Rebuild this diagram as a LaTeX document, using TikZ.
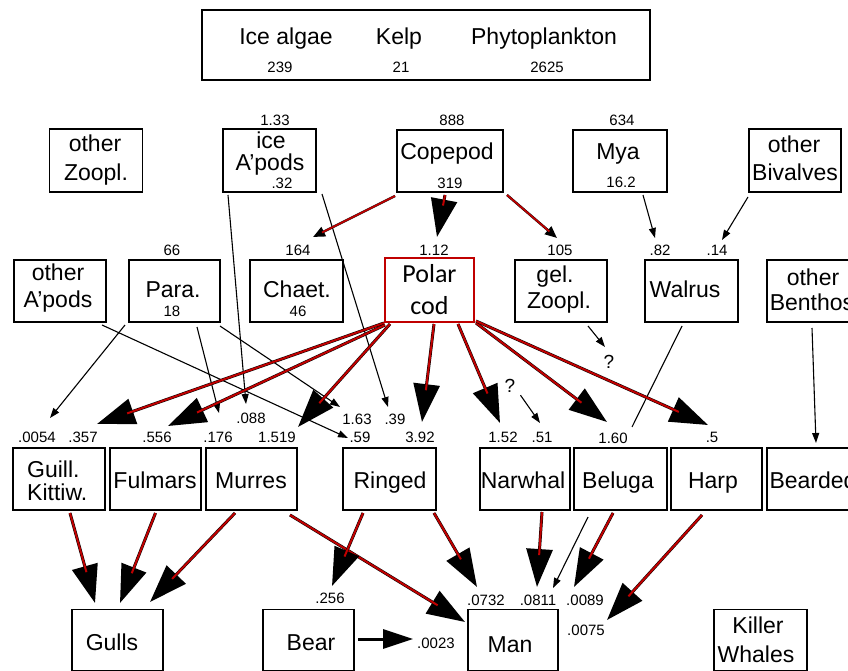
\documentclass[tikz,border=0pt]{standalone}
\usepackage{fontspec}
\setmainfont{Liberation Sans}
\newfontfamily\pcfont{Carlito}
\usetikzlibrary{arrows.meta,calc}
\definecolor{pcred}{RGB}{192,0,0}
\begin{document}
\begin{tikzpicture}[x=1pt,y=-1pt,
 box/.style={draw,line width=1.5pt,inner sep=0pt,outer sep=0pt},
 nm/.style={font=\fontsize{23}{27}\selectfont,anchor=base,inner sep=0pt},
 num/.style={font=\fontsize{15}{18}\selectfont,anchor=base,inner sep=0pt},
 qm/.style={font=\fontsize{19}{22}\selectfont,anchor=base,inner sep=0pt},
 pcn/.style={font=\pcfont\fontsize{26}{30}\selectfont,anchor=base,inner sep=0pt},
 bigred/.style={line width=3pt,-{Triangle[length=38pt,width=26pt]},postaction={draw=pcred,line width=2pt,-,shorten >=32pt}},
 smallred/.style={line width=2.4pt,-{Triangle[length=12pt,width=10pt]},postaction={draw=pcred,line width=1.7pt,-,shorten >=10pt}},
 thinarr/.style={line width=1.1pt,-{Triangle[length=10pt,width=7pt]}},
 thinline/.style={line width=1.1pt},
 bigblack/.style={line width=3pt,-{Triangle[length=30pt,width=19pt]}},
]
\useasboundingbox (0,0) rectangle (848,671);
\fill[white] (0,0) rectangle (848,671);

% ---------- boxes ----------
\node[box,minimum width=448pt,minimum height=70pt] (prod) at (426,45) {};
\node[box,minimum width=93pt,minimum height=63pt] (oz) at (96,160.5) {};
\node[box,minimum width=93pt,minimum height=63pt] (ia) at (269.5,160.5) {};
\node[box,minimum width=106pt,minimum height=62pt] (cop) at (450,161) {};
\node[box,minimum width=94pt,minimum height=62pt] (mya) at (620,161) {};
\node[box,minimum width=92pt,minimum height=63pt] (ob) at (795,160.5) {};
\node[box,minimum width=92pt,minimum height=62pt] (oa) at (60,291) {};
\node[box,minimum width=91pt,minimum height=62pt] (para) at (174.5,291) {};
\node[box,minimum width=93pt,minimum height=62pt] (cha) at (296.5,291) {};
\node[box,draw=pcred,line width=2.5pt,minimum width=89pt,minimum height=64pt] (pc) at (429.5,290) {};
\node[box,minimum width=92pt,minimum height=62pt] (gz) at (561,291) {};
\node[box,minimum width=93pt,minimum height=62pt] (wal) at (691.5,291) {};
\node[box,minimum width=92pt,minimum height=62pt] (obe) at (813,291) {};
\node[box,minimum width=92pt,minimum height=62pt] (gk) at (59,479) {};
\node[box,minimum width=91pt,minimum height=62pt] (ful) at (155.5,479) {};
\node[box,minimum width=91pt,minimum height=62pt] (mur) at (251.5,479) {};
\node[box,minimum width=93pt,minimum height=62pt] (rin) at (389.5,479) {};
\node[box,minimum width=90pt,minimum height=62pt] (nar) at (525,479) {};
\node[box,minimum width=93pt,minimum height=62pt] (bel) at (620.5,479) {};
\node[box,minimum width=91pt,minimum height=62pt] (har) at (716.5,479) {};
\node[box,minimum width=92pt,minimum height=62pt] (bea) at (813,479) {};
\node[box,minimum width=91pt,minimum height=61pt] (gul) at (117.5,640) {};
\node[box,minimum width=91pt,minimum height=61pt] (bear) at (308.5,640) {};
\node[box,minimum width=90pt,minimum height=61pt] (man) at (513,640) {};
\node[box,minimum width=93pt,minimum height=61pt] (kw) at (760.5,640) {};

% ---------- box texts ----------
\node[nm] (t-ia1) at (286,45) {Ice algae};
\node[nm] (t-kelp) at (399,45) {Kelp};
\node[nm] (t-phy) at (544,45) {Phytoplankton};
\node[num] (n239) at (280,73) {239};
\node[num] (n21) at (401,73) {21};
\node[num] (n2625) at (547,73) {2625};

\node[nm] (t-oz1) at (95,152) {other};
\node[nm] (t-oz2) at (96,181) {Zoopl.};
\node[nm] (t-ia-a) at (271,149) {ice};
\node[nm] (t-ia-b) at (270,171) {A'pods};
\node[num] (n133) at (275,126) {1.33};
\node[num] (n32) at (282,189) {.32};
\node[nm] (t-cop) at (447,160) {Copepod};
\node[num] (n888) at (452,126) {888};
\node[num] (n319) at (450,189) {319};
\node[nm] (t-mya) at (618,160) {Mya};
\node[num] (n634) at (622,126) {634};
\node[num] (n162) at (621,187) {16.2};
\node[nm] (t-ob1) at (794,153) {other};
\node[nm] (t-ob2) at (795,181) {Bivalves};

\node[nm] (t-oa1) at (58,280) {other};
\node[nm] (t-oa2) at (58,307) {A'pods};
\node[nm] (t-para) at (173,297) {Para.};
\node[num] (n66) at (172,255) {66};
\node[num] (n18) at (172,316) {18};
\node[nm] (t-cha) at (297,297) {Chaet.};
\node[num] (n164) at (298,255) {164};
\node[num] (n46) at (298,316) {46};
\node[pcn] (t-pc1) at (429.5,282) {Polar};
\node[pcn] (t-pc2) at (429.5,314) {cod};
\node[num] (n112) at (434,255) {1.12};
\node[nm] (t-gz1) at (555,282) {gel.};
\node[nm] (t-gz2) at (559,308) {Zoopl.};
\node[num] (n105) at (560,255) {105};
\node[nm] (t-wal) at (685,297) {Walrus};
\node[num] (n82) at (660,255) {.82};
\node[num] (n14) at (717,255) {.14};
\node[nm] (t-obe1) at (813,285) {other};
\node[nm] (t-obe2) at (812,310) {Benthos};

\node[nm,anchor=base west] (t-gk1) at (27,477) {Guill.};
\node[nm,anchor=base west] (t-gk2) at (27,500) {Kittiw.};
\node[nm] (t-ful) at (155,488) {Fulmars};
\node[nm] (t-mur) at (251,488) {Murres};
\node[nm] (t-rin) at (390,488) {Ringed};
\node[nm] (t-nar) at (523,488) {Narwhal};
\node[nm] (t-bel) at (618,488) {Beluga};
\node[nm] (t-har) at (713,488) {Harp};
\node[nm] (t-bea) at (813,488) {Bearded};

\node[num] (n0054) at (37,442) {.0054};
\node[num] (n357) at (83,442) {.357};
\node[num] (n556) at (157,442) {.556};
\node[num] (n176) at (218,442) {.176};
\node[num] (n1519) at (277,442) {1.519};
\node[num] (n088) at (251,423) {.088};
\node[num] (n163) at (357,424) {1.63};
\node[num] (n39) at (395,424) {.39};
\node[num] (n59) at (360,442) {.59};
\node[num] (n392) at (420,442) {3.92};
\node[num] (n152) at (503,442) {1.52};
\node[num] (n51) at (542,442) {.51};
\node[num] (n160) at (613,443) {1.60};
\node[num] (n5) at (712,442) {.5};

\node[nm] (t-gul) at (112,650) {Gulls};
\node[nm] (t-bear) at (311,650) {Bear};
\node[nm] (t-man) at (510,652) {Man};
\node[nm] (t-kw1) at (758,633) {Killer};
\node[nm] (t-kw2) at (756,662) {Whales};
\node[num] (n256) at (330,603) {.256};
\node[num] (n0732) at (486,605) {.0732};
\node[num] (n0811) at (538,605) {.0811};
\node[num] (n0089) at (585,605) {.0089};
\node[num] (n0075) at (586,635) {.0075};
\node[num] (n0023) at (436,648) {.0023};

\node[qm] (q1) at (609,368) {?};
\node[qm] (q2) at (510,392) {?};

% ---------- arrow tips ----------
\coordinate (tChaet) at (313,237);
\coordinate (tPC) at (437,237);
\coordinate (tGel) at (557,238);
\coordinate (t357) at (97,424);
\coordinate (t556) at (168,426);
\coordinate (t1519) at (298,427);
\coordinate (t392) at (422,422);
\coordinate (t152) at (500,423);
\coordinate (t160) at (607,422);
\coordinate (t5) at (708,425);
\coordinate (tG1) at (95,603);
\coordinate (tG2) at (120,603);
\coordinate (tG3) at (150,602);
\coordinate (tMan1) at (465,622);
\coordinate (tBear) at (332,586);
\coordinate (tMan2) at (477,587);
\coordinate (tMan3) at (537,587);
\coordinate (t0089) at (574,587);
\coordinate (t0075) at (607,620);
\coordinate (t0023) at (413,639);
\coordinate (t82) at (655,238);
\coordinate (t14) at (722,240);
\coordinate (tq1) at (605,347);
\coordinate (t51) at (540,423);
\coordinate (tBd) at (816,443);
\coordinate (t0054) at (50,418);
\coordinate (t176) at (219,413);
\coordinate (t59) at (348,438);
\coordinate (t163) at (340,407);
\coordinate (t088) at (246,404);
\coordinate (t39) at (388,407);
\coordinate (eBel) at (632,427);
\coordinate (tMan4) at (553,588);

% ---------- thin black connectors ----------
\draw[thinarr] ($(mya.south)+(23,3)$) -- (t82);
\draw[thinarr] ($(ob.south west)+(-1,5)$) -- (t14);
\draw[thinarr] ($(gz.south)+(27,4)$) -- (tq1);
\draw[thinarr] ($(q2.south east)+(5,3)$) -- (t51);
\draw[thinarr] ($(obe.south)+(-1,6)$) -- (tBd);
\draw[thinarr] ($(para.south west)+(-4,3)$) -- (t0054);
\draw[thinarr] ($(para.south)+(22.5,5)$) -- (t176);
\draw[thinarr] ($(para.south east)+(0,4)$) -- (t163);
\draw[thinarr] ($(oa.south east)+(-4,3)$) -- (t59);
\draw[thinarr] ($(ia.south west)+(5,3)$) -- (t088);
\draw[thinarr] ($(ia.south east)+(6,2)$) -- (t39);
\draw[thinline] ($(wal.south)+(-9.5,4)$) -- (eBel);
\draw[thinarr] ($(bel.south west)+(14,7)$) -- (tMan4);

% ---------- red (energy flow) connectors ----------
\draw[smallred] ($(cop.south west)+(-2,4)$) -- (tChaet);
\draw[bigred] ($(cop.south)+(-5,3)$) -- (tPC);
\draw[smallred] ($(cop.south east)+(4,3)$) -- (tGel);

\draw[bigred] ($(pc.south west)+(-1,1)$) -- (t357);
\draw[bigred] ($(pc.south west)+(0,3)$) -- (t556);
\draw[bigred] ($(pc.south west)+(5,2)$) -- (t1519);
\draw[bigred] ($(pc.south)+(4.5,2)$) -- (t392);
\draw[bigred] ($(pc.south)+(28.5,2)$) -- (t152);
\draw[bigred] ($(pc.south east)+(2,1)$) -- (t160);
\draw[bigred] ($(pc.south east)+(2,-1)$) -- (t5);

\draw[bigred] ($(gk.south)+(11,3)$) -- (tG1);
\draw[bigred] ($(ful.south)+(0,3)$) -- (tG2);
\draw[bigred] ($(mur.south)+(-16.5,3)$) -- (tG3);
\draw[bigred] ($(mur.south east)+(-7,5)$) -- (tMan1);
\draw[bigred] ($(rin.south)+(-26.5,3)$) -- (tBear);
\draw[bigred] ($(rin.south east)+(-2,3)$) -- (tMan2);
\draw[bigred] ($(nar.south)+(17,2)$) -- (tMan3);
\draw[bigred] ($(bel.south)+(-7.5,3)$) -- (t0089);
\draw[bigred] ($(har.south)+(-14.5,5)$) -- (t0075);

\draw[bigblack] ($(bear.east)+(4,-1)$) -- (t0023);
\end{tikzpicture}
\end{document}
